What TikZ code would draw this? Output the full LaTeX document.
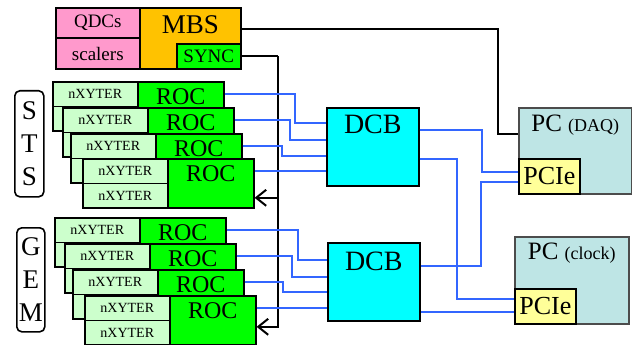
\documentclass[tikz,border=0pt]{standalone}
\usepackage{fontspec}
\setmainfont{Liberation Serif}
\usetikzlibrary{arrows.meta,positioning,calc}
\newcommand{\pxfont}[1]{\fontsize{#1}{#1}\selectfont}
\definecolor{qdcpink}{RGB}{255,153,204}
\definecolor{mbsorange}{RGB}{255,194,0}
\definecolor{rocgreen}{RGB}{0,255,0}
\definecolor{nxgreen}{RGB}{204,255,204}
\definecolor{dcbcyan}{RGB}{0,255,255}
\definecolor{pcteal}{RGB}{190,229,229}
\definecolor{pcieyellow}{RGB}{255,255,153}
\definecolor{linkblue}{RGB}{51,102,255}
\tikzset{
  box/.style={draw, line width=1.6pt, inner sep=0pt, anchor=north west},
  modbox/.style={box, fill=qdcpink, minimum width=84pt, minimum height=30.5pt,
                 font=\pxfont{19}},
  mbsbox/.style={box, fill=mbsorange, minimum width=101pt, minimum height=61pt},
  syncbox/.style={box, fill=rocgreen, minimum width=64pt, minimum height=25pt,
                  font=\pxfont{19}},
  chip/.style={box, fill=nxgreen, minimum width=85pt, minimum height=24.5pt,
               font=\pxfont{14}},
  toptext/.style={anchor=north, inner sep=0pt, yshift=#1},
  toptext/.default=-7pt,
  roc/.style={box, fill=rocgreen, minimum width=86pt, minimum height=49pt,
              label={[toptext, font=\pxfont{24}]north:ROC}},
  detlabel/.style={draw, line width=1.6pt, rounded corners=5pt, anchor=north west,
                   align=center, inner sep=0pt, font=\fontsize{27}{33}\selectfont},
  dcb/.style={box, fill=dcbcyan, minimum width=92pt, minimum height=78pt},
  pc/.style={box, draw=black!70, fill=pcteal, minimum width=113pt, minimum height=86pt},
  pcie/.style={box, fill=pcieyellow, minimum width=61pt, minimum height=35pt,
               anchor=south west, font=\pxfont{26}},
  wire/.style={line width=2pt},
  link/.style={line width=2pt, draw=linkblue},
  syncarrow/.style={wire, -{Straight Barb[length=10pt, width=16pt]}},
}
\begin{document}
\begin{tikzpicture}[x=1pt, y=-1pt]
\useasboundingbox (0,0) rectangle (632,345);

% ---------------- MBS crate ----------------
\node[modbox] (qdc) at (55,7) {QDCs};
\node[modbox] (scal) at (55,37.5) {scalers};
\node[mbsbox, label={[toptext=-8pt, font=\pxfont{27}]north:MBS}] (mbs) at (139,7) {};
\node[syncbox, anchor=south east] (sync) at (mbs.south east) {SYNC};

% ---------------- detector stacks ----------------
\node[detlabel, minimum width=29pt, minimum height=106pt] (sts) at (14,90) {S\\T\\S};
\node[detlabel, minimum width=28pt, minimum height=104pt] (gem) at (16,227) {G\\E\\M};

% each front-end card hides the lower half of the one behind it,
% so only the front card gets a label on its second chip
\foreach \i/\x/\y/\lab in {1/52/81/{}, 2/62/107/{}, 3/70/133/{}, 4/82/158/nXYTER} {
  \node[chip] (snxb\i) at (\x,\y+24.5) {\lab};
  \node[chip] (snx\i) at (\x,\y) {nXYTER};
  \node[roc] (sroc\i) at (\x+85,\y) {};
}
\foreach \i/\x/\y/\lab in {1/54/217/{}, 2/64/243/{}, 3/72/269/{}, 4/84/295/nXYTER} {
  \node[chip] (gnxb\i) at (\x,\y+24.5) {\lab};
  \node[chip] (gnx\i) at (\x,\y) {nXYTER};
  \node[roc] (groc\i) at (\x+85,\y) {};
}

% ---------------- DCBs and PCs ----------------
\node[dcb, label={[toptext=-8pt, font=\pxfont{28}]north:DCB}] (dcb1) at (326,107) {};
\node[dcb, label={[toptext=-10pt, font=\pxfont{28}]north:DCB}] (dcb2) at (327,242) {};

\node[pc, label={[toptext=-8pt, font=\pxfont{25}]north:PC \pxfont{18}(DAQ)}]
  (pcdaq) at (518,107) {};
\node[pcie] (pcied) at (pcdaq.south west) {PCIe};
\node[pc, minimum width=114pt, minimum height=87pt,
      label={[toptext=-7pt, font=\pxfont{25}]north:PC \pxfont{18}(clock)}]
  (pcclk) at (514,236) {};
\node[pcie] (pciec) at (pcclk.south west) {PCIe};

% ---------------- black lines: MBS and SYNC ----------------
\draw[wire] ($(mbs.east)+(0,-9.5)$) -| ($(pcdaq.west)+(-20,-17)$)
  -- ($(pcdaq.west)+(0,-17)$);

\coordinate (bus) at ($(sync.east)+(36,0)$);
\draw[wire] (sync.east) -- (bus);
\draw[syncarrow] (bus) |- ($(groc4.east)+(0,6.5)$);
\draw[syncarrow] ($(bus |- sroc4.east)+(0,14.5)$) -- ($(sroc4.east)+(0,14.5)$);

% ---------------- optical links ----------------
\foreach \i/\dx/\dy in {1/-31/16, 2/-36/33, 3/-44/49, 4/-20/63.5} {
  \draw[link] ($(sroc\i.north east)+(0,12.5)$) -| ($(dcb1.north west)+(\dx,\dy)$)
    -- ($(dcb1.north west)+(0,\dy)$);
}
\foreach \i/\dx/\dy in {1/-29/18, 2/-35/35, 3/-44/50, 4/-20/65.5} {
  \draw[link] ($(groc\i.north east)+(0,12.5)$) -| ($(dcb2.north west)+(\dx,\dy)$)
    -- ($(dcb2.north west)+(0,\dy)$);
}

\draw[link] ($(dcb1.north east)+(0,23)$) -| ($(pcied.west)+(-36,-4.5)$)
  -- ($(pcied.west)+(0,-4.5)$);
\draw[link] ($(dcb1.north east)+(0,52)$) -| ($(pciec.west)+(-57,-7.5)$)
  -- ($(pciec.west)+(0,-7.5)$);
\draw[link] ($(dcb2.north east)+(0,24)$) -| ($(pcied.west)+(-37,5.5)$)
  -- ($(pcied.west)+(0,5.5)$);
\draw[link] ($(pciec.west)+(0,5.5)$) -- ($(dcb2.east |- pciec.west)+(0,5.5)$);
\end{tikzpicture}
\end{document}
